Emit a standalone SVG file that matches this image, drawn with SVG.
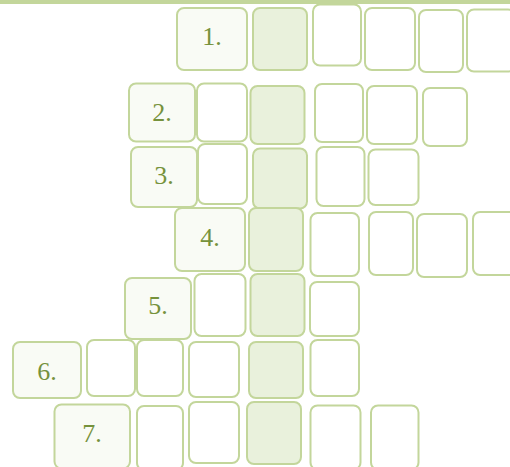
<svg xmlns="http://www.w3.org/2000/svg" width="510" height="467" viewBox="0 0 510 467">
<style>
rect.c{fill:#ffffff;stroke:#c3d69b;stroke-width:2}
rect.l{fill:#f9fbf5;stroke:#c3d69b;stroke-width:2}
rect.s{fill:#e9f1dc;stroke:#c3d69b;stroke-width:2}
text{font-family:"Liberation Serif","Times New Roman",serif;font-size:26px;fill:#76923c;text-anchor:middle}
</style>
<rect x="0" y="0" width="510" height="4" fill="#c3d69b"/>
<g id="row1">
<g id="r1-label"><rect class="l" x="177" y="8" width="70" height="62" rx="7"/><text x="212" y="45">1.</text></g>
<g id="r1-key"><rect class="s" x="253" y="8" width="54" height="62" rx="7"/></g>
<g id="r1-c1"><rect class="c" x="313" y="4.5" width="48" height="61" rx="7"/></g>
<g id="r1-c2"><rect class="c" x="365" y="8" width="50" height="62" rx="7"/></g>
<g id="r1-c3"><rect class="c" x="419" y="10" width="44" height="62" rx="7"/></g>
<g id="r1-c4"><rect class="c" x="467" y="9.5" width="48" height="62" rx="7"/></g>
</g>
<g id="row2">
<g id="r2-label"><rect class="l" x="129" y="83.5" width="66" height="58" rx="7"/><text x="162" y="120.5">2.</text></g>
<g id="r2-c1"><rect class="c" x="197" y="83.5" width="50" height="58" rx="7"/></g>
<g id="r2-key"><rect class="s" x="250.5" y="86" width="54" height="58" rx="7"/></g>
<g id="r2-c2"><rect class="c" x="315" y="84" width="48" height="58" rx="7"/></g>
<g id="r2-c3"><rect class="c" x="367" y="86" width="50" height="58" rx="7"/></g>
<g id="r2-c4"><rect class="c" x="423" y="88" width="44" height="58" rx="7"/></g>
</g>
<g id="row3">
<g id="r3-c1"><rect class="c" x="198" y="144" width="49" height="60" rx="7"/></g>
<g id="r3-label"><rect class="l" x="131" y="147" width="66" height="60" rx="7"/><text x="164" y="184">3.</text></g>
<g id="r3-key"><rect class="s" x="253" y="148.5" width="54" height="60" rx="7"/></g>
<g id="r3-c2"><rect class="c" x="316.5" y="147" width="48" height="59" rx="7"/></g>
<g id="r3-c3"><rect class="c" x="368.5" y="149.5" width="50" height="55.5" rx="7"/></g>
</g>
<g id="row4">
<g id="r4-label"><rect class="l" x="175" y="208" width="70" height="63" rx="7"/><text x="210" y="245.5">4.</text></g>
<g id="r4-key"><rect class="s" x="249" y="208" width="54" height="63" rx="7"/></g>
<g id="r4-c1"><rect class="c" x="310.5" y="213" width="48.5" height="63" rx="7"/></g>
<g id="r4-c2"><rect class="c" x="369" y="212" width="44" height="63" rx="7"/></g>
<g id="r4-c3"><rect class="c" x="417" y="214" width="50" height="63" rx="7"/></g>
<g id="r4-c4"><rect class="c" x="473" y="212" width="48" height="63" rx="7"/></g>
</g>
<g id="row5">
<g id="r5-label"><rect class="l" x="125" y="278" width="66" height="61" rx="7"/><text x="158" y="314">5.</text></g>
<g id="r5-c1"><rect class="c" x="194.5" y="274" width="51" height="62" rx="7"/></g>
<g id="r5-key"><rect class="s" x="250.5" y="274" width="54" height="62" rx="7"/></g>
<g id="r5-c2"><rect class="c" x="310" y="282" width="49" height="54" rx="7"/></g>
</g>
<g id="row6">
<g id="r6-label"><rect class="l" x="13" y="342" width="68" height="56" rx="7"/><text x="47" y="380">6.</text></g>
<g id="r6-c1"><rect class="c" x="87" y="340" width="48" height="56" rx="7"/></g>
<g id="r6-c2"><rect class="c" x="137" y="340" width="46" height="56" rx="7"/></g>
<g id="r6-c3"><rect class="c" x="189" y="342" width="50" height="55" rx="7"/></g>
<g id="r6-key"><rect class="s" x="249" y="342" width="54" height="56" rx="7"/></g>
<g id="r6-c4"><rect class="c" x="310.5" y="340" width="48.5" height="56" rx="7"/></g>
</g>
<g id="row7">
<g id="r7-label"><rect class="l" x="54.5" y="404.5" width="75.5" height="64" rx="7"/><text x="92" y="441.5">7.</text></g>
<g id="r7-c1"><rect class="c" x="137" y="406" width="46" height="64" rx="7"/></g>
<g id="r7-c2"><rect class="c" x="189" y="402" width="50" height="61" rx="7"/></g>
<g id="r7-key"><rect class="s" x="247" y="402" width="54" height="62" rx="7"/></g>
<g id="r7-c3"><rect class="c" x="310.5" y="405.5" width="50" height="64" rx="7"/></g>
<g id="r7-c4"><rect class="c" x="371" y="405.5" width="47.5" height="64" rx="7"/></g>
</g>
<g id="connectors"/>
</svg>
